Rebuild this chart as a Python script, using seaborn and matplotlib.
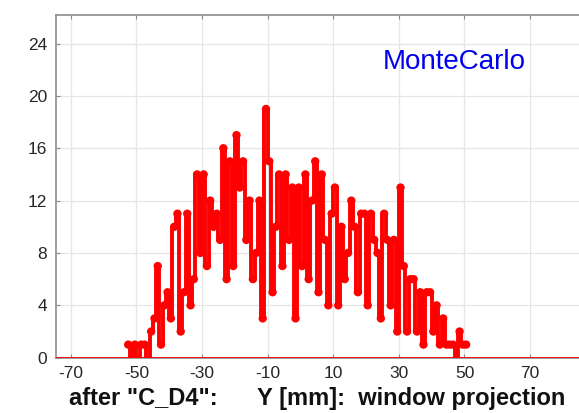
import numpy as np
import pandas as pd
import matplotlib
matplotlib.use("Agg")
import matplotlib.pyplot as plt
import seaborn as sns

# Histogram of Y positions [mm] after C_D4, 1 mm bins from -53 to +51
bin_low = -53.0
bin_width = 1.0
counts = [
    1, 0, 1, 0, 1, 1, 0, 2, 3, 7,      # -53 .. -43
    1, 4, 5, 3, 10, 11, 2, 5, 11, 4,   # -43 .. -33
    6, 14, 8, 14, 7, 12, 10, 11, 9, 16, # -33 .. -23
    6, 15, 7, 17, 13, 15, 9, 12, 6, 8, # -23 .. -13
    12, 3, 19, 15, 5, 10, 14, 7, 14, 9, # -13 .. -3
    13, 3, 13, 7, 14, 6, 12, 15, 5, 14, # -3 .. 7
    9, 4, 11, 13, 4, 10, 6, 8, 12, 10, # 7 .. 17
    5, 11, 11, 4, 11, 9, 8, 3, 11, 9,  # 17 .. 27
    4, 9, 2, 13, 7, 2, 6, 6, 2, 5,     # 27 .. 37
    1, 5, 5, 2, 4, 1, 3, 1, 1, 1,      # 37 .. 47
    0, 2, 1, 1,                        # 47 .. 51
]
x_ticks = [-70, -50, -30, -10, 10, 30, 50, 70]
y_ticks = [0, 4, 8, 12, 16, 20, 24]
x_label = 'after "C_D4":      Y [mm]:  window projection'
tag_text = "MonteCarlo"

bin_high = bin_low + bin_width * len(counts)
centers = bin_low + bin_width * (np.arange(len(counts)) + 0.5)
df = pd.DataFrame({"y_mm": centers, "entries": counts})

sns.set_style("white")
plt.rcParams["font.family"] = ["Liberation Sans", "DejaVu Sans"]
plt.rcParams["axes.unicode_minus"] = False

fig = plt.figure(figsize=(5.79, 4.13), dpi=100)
ax = fig.add_axes([0.0962, 0.1339, 0.9038, 0.8305])

red = "#ff0000"
# stepped outline of the histogram
sns.histplot(data=df, x="y_mm", weights="entries",
             binwidth=bin_width, binrange=(bin_low, bin_high),
             element="step", fill=False, color=red, linewidth=2.8,
             ax=ax, zorder=3)
# empty bins outside the populated range
ax.axhline(0, color=red, linewidth=2.0, zorder=3)
# bin markers
sns.scatterplot(data=df[df["entries"] > 0], x="y_mm", y="entries",
                color=red, s=36, edgecolor="none", marker="o",
                ax=ax, zorder=4)

ax.set_xlim(-74.6, 84.9)
ax.set_ylim(0, 26.2)
ax.set_xticks(x_ticks)
ax.set_yticks(y_ticks)
ax.grid(True, color="#e6e6e6", linewidth=0.9)
ax.set_axisbelow(True)

for side in ("left", "top", "bottom"):
    ax.spines[side].set_visible(True)
    ax.spines[side].set_color("#8c8c8c")
    ax.spines[side].set_linewidth(1.2)
ax.spines["right"].set_visible(False)

ax.tick_params(axis="both", direction="in", length=3, width=0.8,
               color="#8c8c8c", labelsize=12.5, labelcolor="#262626",
               top=True, bottom=True, left=True, right=False, pad=6)
ax.set_ylabel("")
ax.set_xlabel(x_label, fontsize=17, fontweight="bold", color="#111111",
              labelpad=4.5)

ax.text(25.2, 22.6, tag_text, color="#0000ee", fontsize=20,
        ha="left", va="center")

fig.savefig("out.png", dpi=100)
